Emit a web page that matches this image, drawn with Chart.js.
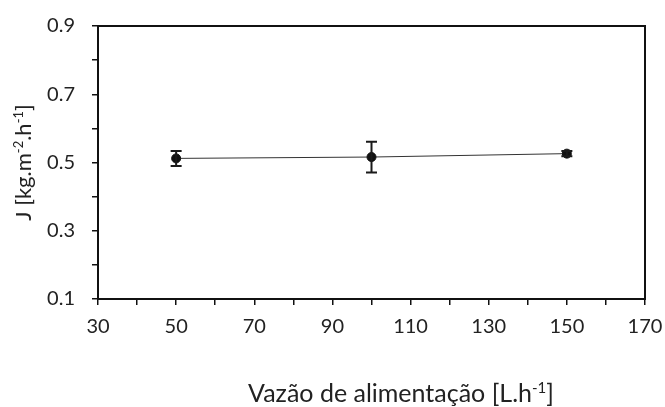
<!DOCTYPE html>
<html>
<head>
<meta charset="utf-8">
<script src="https://cdn.jsdelivr.net/npm/chart.js@4.4.0/dist/chart.umd.min.js"></script>
<style>
  html, body { margin: 0; padding: 0; background: #fff; }
  #wrap { width: 665px; height: 407px; }
</style>
</head>
<body>
<div id="wrap"><canvas id="chart"></canvas></div>
<script>
// data
const flowRates = [50, 100, 150];
const fluxMeans = [0.512, 0.516, 0.526];
const fluxErrors = [0.022, 0.045, 0.008];
const xTickLabels = [30, 50, 70, 90, 110, 130, 150, 170];
const yTickLabels = [0.1, 0.3, 0.5, 0.7, 0.9];

const FONT = "Lato, 'Open Sans', sans-serif";
const TEXT = "#222";

// text with superscript pieces, e.g. [["J [kg.m"], ["-2", true], ...]
function drawRich(ctx, parts, size) {
  const sup = Math.round(size * 0.6);
  let total = 0;
  const widths = parts.map(([t, s]) => {
    ctx.font = (s ? sup : size) + "px " + FONT;
    const w = ctx.measureText(t).width;
    total += w;
    return w;
  });
  let x = -total / 2;
  parts.forEach(([t, s], i) => {
    ctx.font = (s ? sup : size) + "px " + FONT;
    ctx.fillText(t, x, s ? -size * 0.38 : 0);
    x += widths[i];
  });
}

const extras = {
  id: "extras",
  afterDatasetsDraw(chart) {
    const { ctx, chartArea: a, scales } = chart;
    ctx.save();
    // error bars
    ctx.strokeStyle = "#1a1a1a";
    ctx.lineWidth = 2;
    flowRates.forEach((v, i) => {
      const x = scales.x.getPixelForValue(v);
      const y1 = scales.y.getPixelForValue(fluxMeans[i] + fluxErrors[i]);
      const y2 = scales.y.getPixelForValue(fluxMeans[i] - fluxErrors[i]);
      ctx.beginPath();
      ctx.moveTo(x, y1); ctx.lineTo(x, y2);
      ctx.moveTo(x - 5.5, y1); ctx.lineTo(x + 5.5, y1);
      ctx.moveTo(x - 5.5, y2); ctx.lineTo(x + 5.5, y2);
      ctx.stroke();
    });
    // frame
    ctx.strokeStyle = "#111";
    ctx.lineWidth = 2;
    ctx.strokeRect(a.left, a.top, a.right - a.left, a.bottom - a.top);
    // axis titles
    ctx.fillStyle = TEXT;
    ctx.textBaseline = "alphabetic";
    ctx.save();
    ctx.translate(401, 402);
    drawRich(ctx, [["Vazão de alimentação [L.h"], ["-1", true], ["]"]], 25);
    ctx.restore();
    ctx.save();
    ctx.translate(31, (a.top + a.bottom) / 2);
    ctx.rotate(-Math.PI / 2);
    drawRich(ctx, [["J [kg.m"], ["-2", true], [".h"], ["-1", true], ["]"]], 22);
    ctx.restore();
    ctx.restore();
  }
};

new Chart(document.getElementById("chart"), {
  type: "line",
  data: {
    datasets: [{
      data: flowRates.map((x, i) => ({ x, y: fluxMeans[i] })),
      borderColor: "#333",
      borderWidth: 1,
      pointRadius: 4.5,
      pointBackgroundColor: "#111",
      pointBorderColor: "#111",
      tension: 0
    }]
  },
  options: {
    responsive: true,
    maintainAspectRatio: false,
    animation: false,
    layout: { padding: { top: 26, right: 20, left: 0, bottom: 0 } },
    plugins: { legend: { display: false }, tooltip: { enabled: false } },
    scales: {
      x: {
        type: "linear",
        min: 30, max: 170,
        afterFit: s => { s.height = 108; s.paddingLeft = 0; s.paddingRight = 0; },
        ticks: {
          stepSize: 10,
          padding: 10,
          color: TEXT,
          font: { family: FONT, size: 20 },
          maxRotation: 0,
          autoSkip: false,
          callback: v => xTickLabels.includes(v) ? String(v) : ""
        },
        grid: { drawOnChartArea: false, drawTicks: true, tickLength: 6, color: "#111", lineWidth: 1.5 },
        border: { display: true, color: "#111", width: 2 }
      },
      y: {
        min: 0.1, max: 0.9,
        afterFit: s => { s.width = 98; s.paddingTop = 0; s.paddingBottom = 0; },
        ticks: {
          stepSize: 0.1,
          padding: 17,
          color: TEXT,
          font: { family: FONT, size: 20 },
          autoSkip: false,
          callback: v => yTickLabels.some(t => Math.abs(t - v) < 1e-6) ? v.toFixed(1) : ""
        },
        grid: { drawOnChartArea: false, drawTicks: true, tickLength: 6, color: "#111", lineWidth: 1.5 },
        border: { display: true, color: "#111", width: 2 }
      }
    }
  },
  plugins: [extras]
});
</script>
</body>
</html>
